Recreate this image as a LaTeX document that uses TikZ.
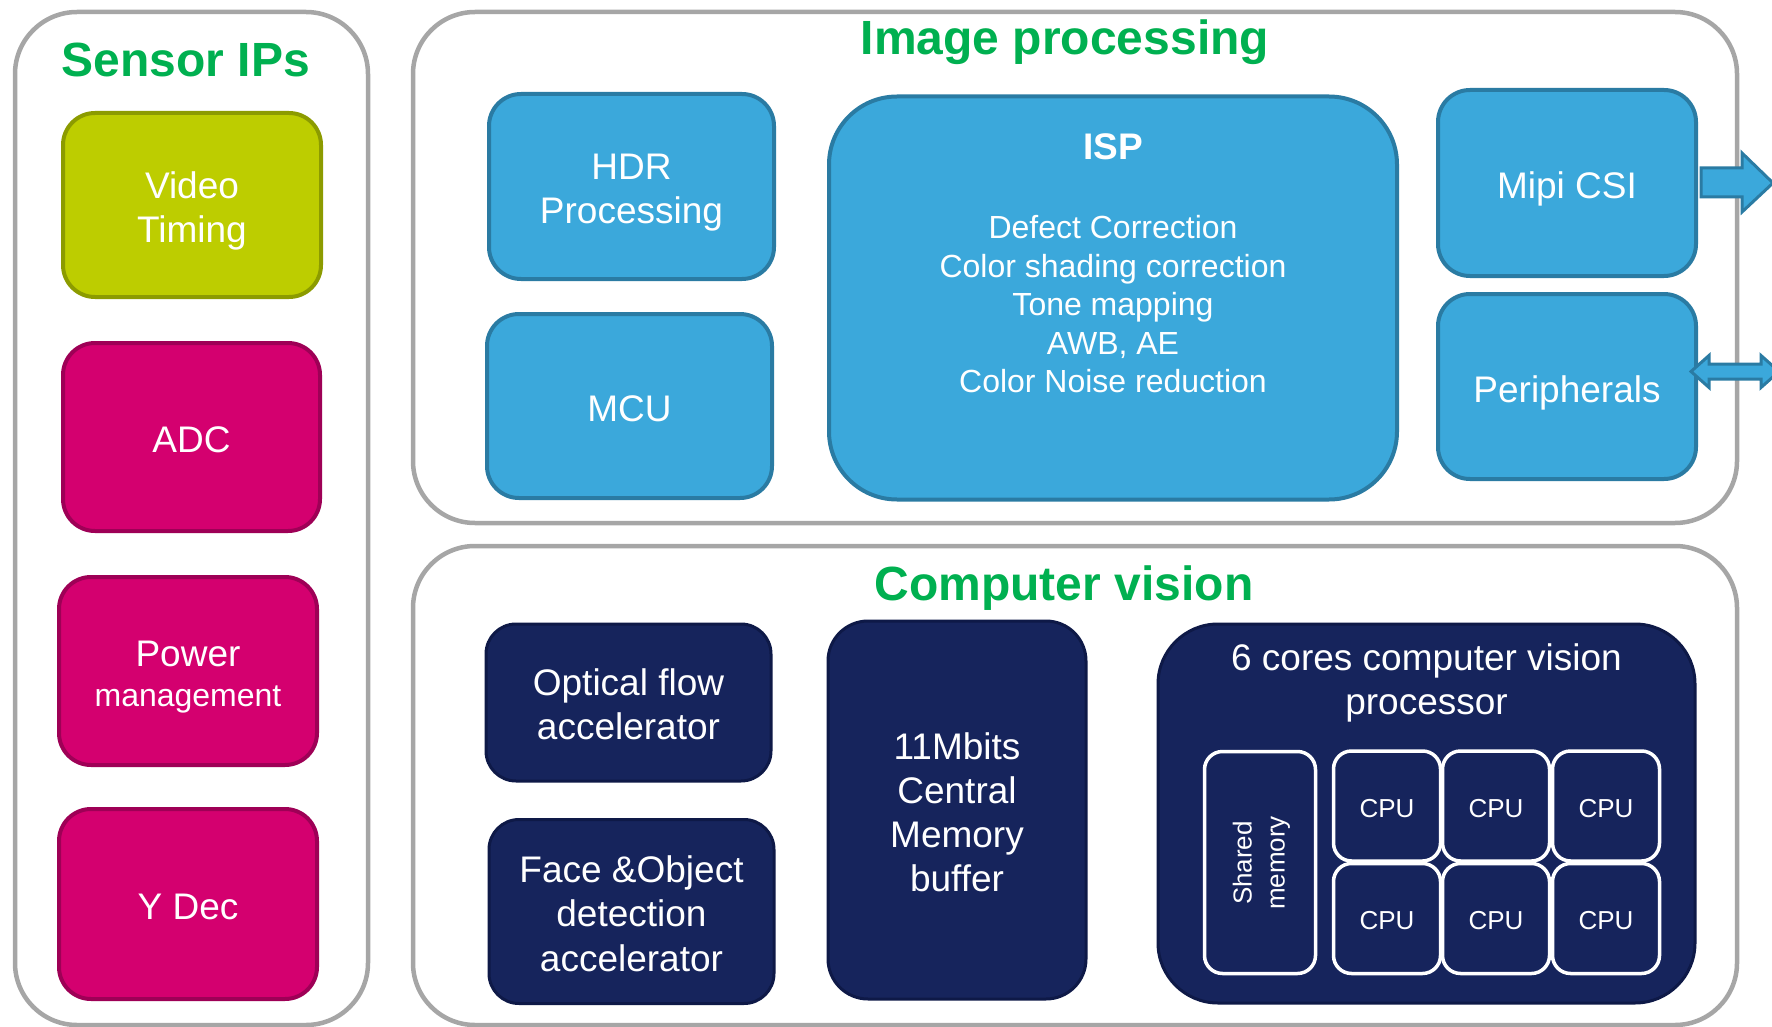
\documentclass[tikz,border=0pt]{standalone}
\usepackage{fontspec}
\setmainfont{Liberation Sans}
\usetikzlibrary{calc}

\definecolor{frameGray}{HTML}{A6A6A6}
\definecolor{titleGreen}{HTML}{00B050}
\definecolor{oliveFill}{HTML}{BDCD00}
\definecolor{oliveLine}{HTML}{8C9B00}
\definecolor{magFill}{HTML}{D4006F}
\definecolor{magLine}{HTML}{9E0056}
\definecolor{blueFill}{HTML}{3BA8DB}
\definecolor{blueLine}{HTML}{2A7BA3}
\definecolor{navyFill}{HTML}{16245C}
\definecolor{navyLine}{HTML}{0E1947}

% invisible rules giving text lines a fixed ascent and descent
\newcommand\linestrut{\rule[-0.2em]{0pt}{1.23em}}
\newcommand\laststrut{\rule[-0.2em]{0pt}{1.1em}}
\newcommand\tallstrut{\rule[-0.2em]{0pt}{1.25em}}
\newcommand\corestrut{\rule[-0.1em]{0pt}{1.05em}}

\begin{document}
\begin{tikzpicture}[x=1pt,y=-1pt,
  every node/.style={inner sep=0pt, outer sep=0pt},
  size/.style 2 args={minimum width=#1pt, minimum height=#2pt},
  frame/.style={draw=frameGray, line width=4.5pt, rounded corners=62pt, fill=white},
  title/.style={text=titleGreen, font=\fontsize{48}{56}\selectfont\bfseries, anchor=base},
  block/.style={rounded corners=32pt, line width=4pt, text=white, align=center,
                font=\fontsize{37}{44}\selectfont,
                execute at begin node=\tallstrut, execute at end node=\laststrut},
  olivebox/.style={block, fill=oliveFill, draw=oliveLine},
  magbox/.style={block, fill=magFill, draw=magLine},
  bluebox/.style={block, fill=blueFill, draw=blueLine},
  navybox/.style={block, fill=navyFill, draw=navyLine, line width=3pt},
  core/.style={rounded corners=18pt, line width=3.5pt, draw=white, fill=navyFill,
               text=white, align=center, font=\fontsize{26}{33}\selectfont},
  cpubox/.style={core, execute at begin node=\corestrut},
  blockarrow/.style={fill=blueFill, draw=blueLine, line width=3pt, line join=miter},
]
\useasboundingbox (0,0) rectangle (1772,1027);

% group frames
\node[frame, size={353}{1013}] (sensorframe) at (191.5,518.5) {};
\node[frame, size={1324}{511}] (ipframe) at (1075,267.5) {};
\node[frame, size={1324}{479}] (cvframe) at (1075,785.5) {};

% group titles
\node[title] (sensortitle) at (186,77) {Sensor IPs};
\node[title] (iptitle) at (1065,55) {Image processing};
\node[title] (cvtitle) at (1064,600) {Computer vision};

% sensor IPs
\node[olivebox, size={258}{184}] (vt) at (192,205) {\linestrut Video\\Timing};
\node[magbox, size={257}{188}] (adc) at (191.5,437) {ADC};
\node[magbox, size={258}{188}, font=\fontsize{37}{40}\selectfont] (pwr) at (188,671)
  {\linestrut Power\\{\fontsize{32}{40}\selectfont management}};
\node[magbox, size={258}{190}] (ydec) at (188,904) {Y Dec};

% image processing
\node[bluebox, size={285}{185}] (hdr) at (631.5,186.5) {\linestrut HDR\\Processing};
\node[bluebox, size={285}{184}] (mcu) at (629.5,406) {MCU};
\node[bluebox, size={568}{403}, rounded corners=68pt] (isp) at (1113,298) {};
\node[anchor=base, text=white, font=\fontsize{37}{44}\selectfont\bfseries]
  (isptitle) at (1113,160) {ISP};
\node[anchor=north, text=white, align=center, font=\fontsize{32}{38.5}\selectfont]
  (isplist) at (1113,215.7)
  {Defect Correction\\Color shading correction\\Tone mapping\\AWB, AE\\Color Noise reduction};
\node[bluebox, size={258}{186}] (mipi) at (1567,183) {Mipi CSI};
\node[bluebox, size={258}{185}] (peri) at (1567,386.5) {Peripherals};

% computer vision
\node[navybox, size={285}{157}, rounded corners=30pt] (optflow) at (628.5,702.5)
  {\linestrut Optical flow\\accelerator};
\node[navybox, size={285}{184}, rounded corners=30pt, font=\fontsize{37}{44.6}\selectfont]
  (facedet) at (631.5,911.5)
  {\linestrut Face \&Object\\detection\\accelerator};
\node[navybox, size={258}{378}, rounded corners=40pt] (cmem) at (957,810)
  {\linestrut 11Mbits\\Central\\Memory\\buffer};
\node[navybox, size={537}{379}, rounded corners=60pt] (cvp) at (1426.5,813.5) {};
\node[anchor=north, text=white, align=center, font=\fontsize{37}{44}\selectfont]
  (cvptitle) at (1426.5,644) {6 cores computer vision\\processor};
\node[core, size={111}{222}] (shm) at (1260,862.5) {};
\node[rotate=90, text=white, align=center, font=\fontsize{26}{33}\selectfont]
  (shmtext) at (1261.5,863) {Shared\\memory};
\foreach \c/\x in {1/1387,2/1496,3/1606}{
  \foreach \r/\y in {1/806,2/918.5}{
    \node[cpubox, size={107}{110}] (cpu\r\c) at (\x,\y) {CPU};
  }
}

% external links
\coordinate (csiout) at ($(mipi.east)+(77,0)$);
\draw[blockarrow] ($(mipi.east)+(5,-15)$) -- ($(mipi.east)+(46,-15)$)
  -- ($(mipi.east)+(46,-30)$) -- (csiout) -- ($(mipi.east)+(46,29)$)
  -- ($(mipi.east)+(46,14)$) -- ($(mipi.east)+(5,14)$) -- cycle;

\coordinate (perilink) at ($(peri.east)+(-5,-15)$);
\coordinate (busout) at ($(perilink)+(88,0)$);
\draw[blockarrow] (perilink) -- ($(perilink)+(18,-16)$) -- ($(perilink)+(18,-7.5)$)
  -- ($(perilink)+(70,-7.5)$) -- ($(perilink)+(70,-16)$) -- (busout)
  -- ($(perilink)+(70,16)$) -- ($(perilink)+(70,7.5)$) -- ($(perilink)+(18,7.5)$)
  -- ($(perilink)+(18,16)$) -- cycle;
\end{tikzpicture}
\end{document}
